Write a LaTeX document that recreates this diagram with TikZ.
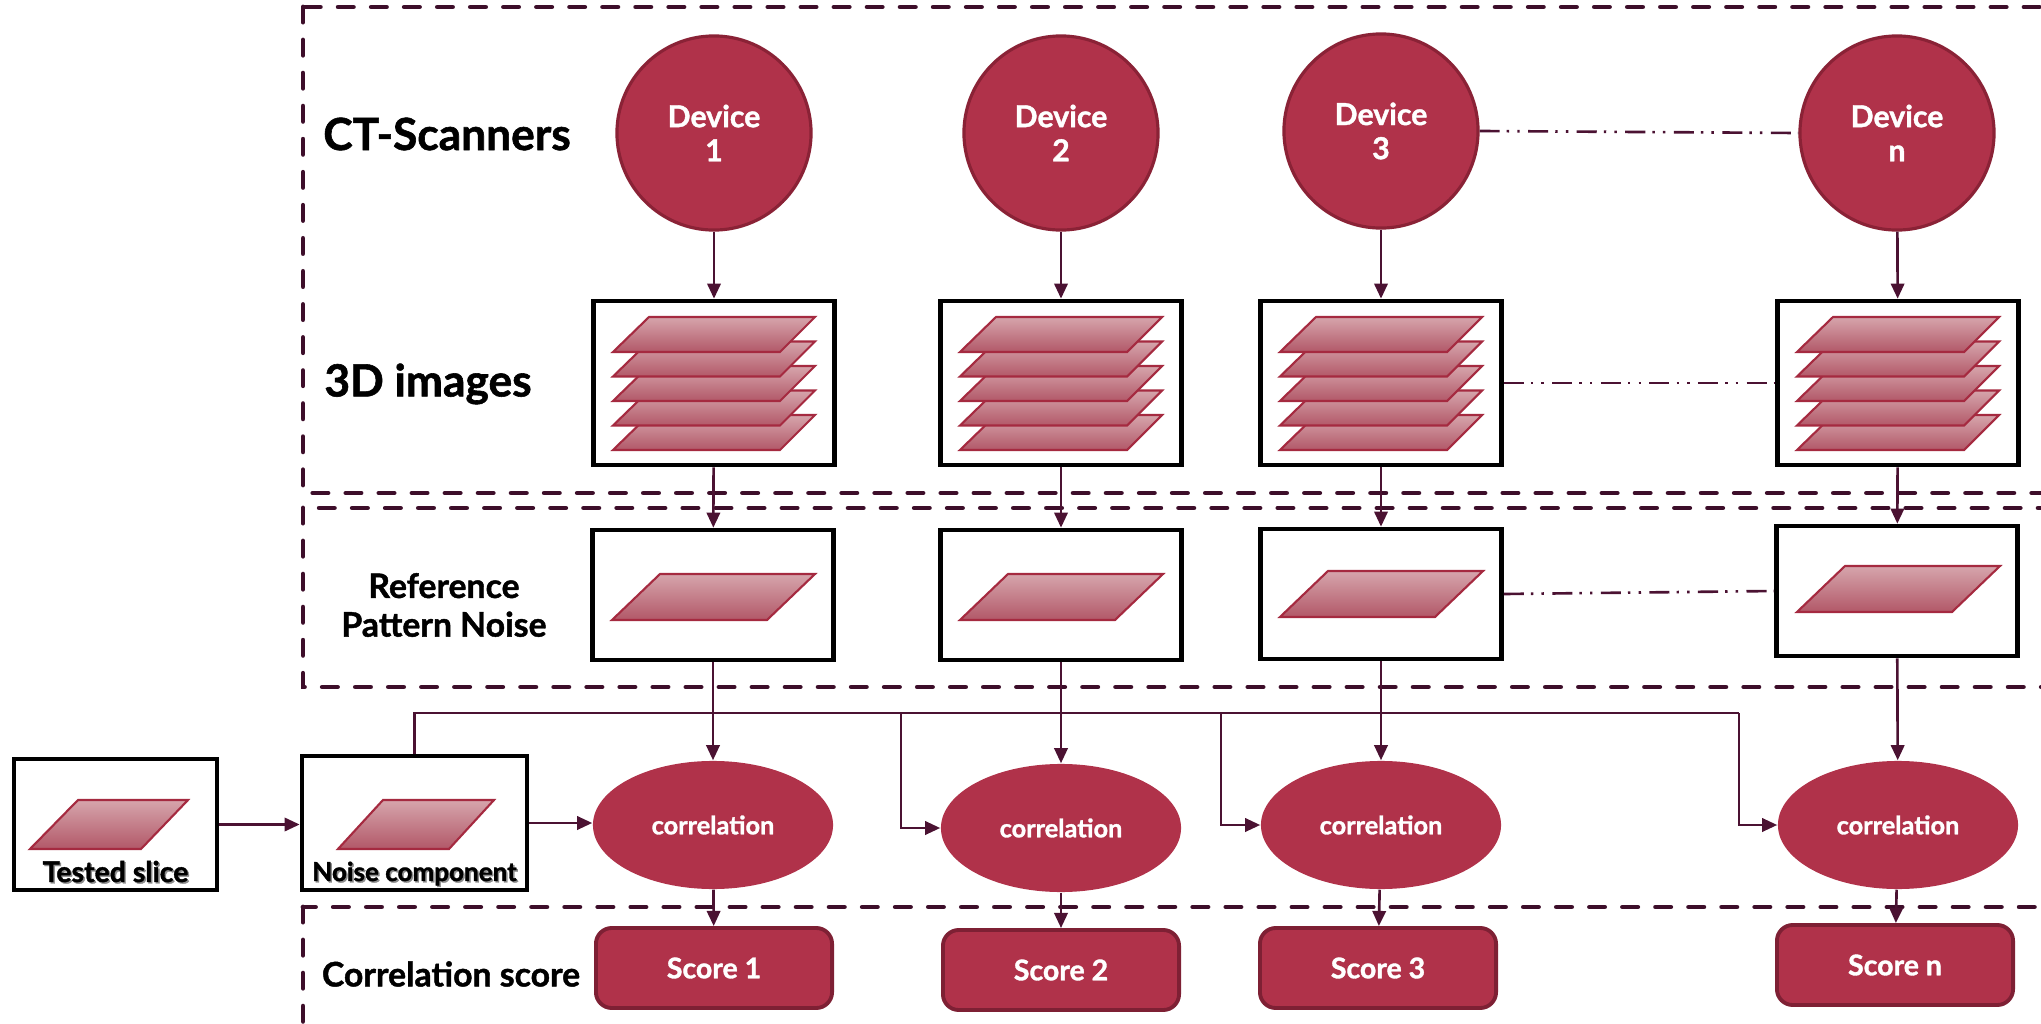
\documentclass[tikz,border=0pt]{standalone}
\usepackage{fontspec}
\setmainfont{Lato}[BoldFeatures={FakeBold=1.3}]
\usetikzlibrary{arrows.meta,shapes.geometric,calc}
\definecolor{maroon}{HTML}{B0324A}
\definecolor{maroonD}{HTML}{8A2236}
\definecolor{maroonS}{HTML}{7E2034}
\definecolor{wireC}{HTML}{4B1232}
\definecolor{regC}{HTML}{3D0E2A}
\definecolor{sliceE}{HTML}{A52A40}
\definecolor{sliceT}{HTML}{D6A5AC}
\definecolor{sliceB}{HTML}{B25868}
\begin{document}
\begin{tikzpicture}[x=0.01cm,y=-0.01cm,
  wire/.style={draw=wireC,line width=0.75pt},
  arr/.style={wire,-{Triangle[length=4.3pt,width=3.8pt]}},
  region/.style={draw=regC,line width=1.4pt,line cap=round,dash pattern=on 4.3pt off 5.1pt},
  dashdots/.style={draw=wireC,line width=0.75pt,dash pattern=on 5.7pt off 2pt on 0.7pt off 2.3pt on 0.7pt off 2.4pt},
  device/.style={circle,fill=maroon,draw=maroonD,line width=0.9pt,minimum size=1.94cm,inner sep=0pt,
    text=white,align=center,font=\bfseries\fontsize{8.6}{9.7}\selectfont},
  framebox/.style={draw=black,line width=1.3pt,fill=white,minimum width=2.41cm,inner sep=0pt},
  stackbox/.style={framebox,minimum height=1.64cm},
  rpnbox/.style={framebox,minimum height=1.30cm},
  corr/.style={ellipse,fill=maroon,minimum width=2.40cm,minimum height=1.28cm,inner sep=0pt,
    text=white,font=\bfseries\fontsize{7.2}{8.5}\selectfont},
  scorebox/.style={rectangle,rounded corners=4.5pt,fill=maroon,draw=maroonS,line width=1.1pt,
    minimum width=2.36cm,minimum height=0.80cm,inner sep=0pt,text=white,font=\bfseries\fontsize{8.1}{9.5}\selectfont},
  biglabel/.style={font=\bfseries\fontsize{12.6}{14}\selectfont},
  smalllabel/.style={font=\bfseries\fontsize{9.6}{11}\selectfont,align=center},
  slice/.style={draw=sliceE,line width=0.6pt,top color=sliceT,bottom color=sliceB},
  pics/stack/.style={code={
    \foreach \d in {67,42.5,18,-6.5,-31}
      {\path[slice] (-101,\d) -- (66,\d) -- (101,\d-35) -- (-65,\d-35) -- cycle;}
  }},
  pics/flat/.style={code={
    \path[slice] (-101,23) -- (54,23) -- (102,-23) -- (-53,-23) -- cycle;
  }}
]
\useasboundingbox (0,0) rectangle (2041,1024);

% dashed stage regions, open to the right
\begin{scope}
  \clip (0,0) rectangle (2041,1024);
  \draw[region] (303,7) rectangle (2090,493);
  \draw[region] (303,508) rectangle (2090,687);
  \draw[region] (303,907) rectangle (2090,1060);
\end{scope}

% stage labels
\node[biglabel] (lblCT) at (447,134) {CT-Scanners};
\node[biglabel] (lbl3D) at (428,384) {3D images};
\node[smalllabel] (lblRPN) at (444,605) {Reference\\Pattern Noise};
\node[smalllabel] (lblCS) at (451,974) {Correlation score};

% scanners
\node[device] (d1) at (714,133) {Device\\1};
\node[device] (d2) at (1061,133) {Device\\2};
\node[device] (d3) at (1381,131) {Device\\3};
\node[device] (dn) at (1897,133) {Device\\n};

% acquired volumes
\node[stackbox] (s1) at (714,383) {};
\node[stackbox] (s2) at (1061,383) {};
\node[stackbox] (s3) at (1381,383) {};
\node[stackbox] (sn) at (1898,383) {};
\pic at (714,383) {stack};
\pic at (1061,383) {stack};
\pic at (1381,383) {stack};
\pic at (1898,383) {stack};

% reference pattern noise
\node[rpnbox] (r1) at (713,595) {};
\node[rpnbox] (r2) at (1061,595) {};
\node[rpnbox] (r3) at (1381,594) {};
\node[rpnbox] (rn) at (1897,591) {};
\pic at (713,597) {flat};
\pic at (1061,597) {flat};
\pic at (1381,594) {flat};
\pic at (1898,589) {flat};

% correlation stage
\node[corr] (c1) at (713,825) {correlation};
\node[corr] (c2) at (1061,828) {correlation};
\node[corr] (c3) at (1381,825) {correlation};
\node[corr] (cn) at (1898,825) {correlation};

% scores
\node[scorebox] (sc1) at (714,968) {Score 1};
\node[scorebox] (sc2) at (1061,970) {Score 2};
\node[scorebox] (sc3) at (1378,968) {Score 3};
\node[scorebox] (scn) at (1895,965) {Score n};

% query slice and its noise residual
\node[framebox,minimum width=2.03cm,minimum height=1.31cm] (ts) at (115.5,824.5) {};
\node[framebox,minimum width=2.25cm,minimum height=1.34cm] (nc) at (414.5,823) {};
\path[slice] (30,849) -- (141,849) -- (188,800) -- (78,800) -- cycle;
\path[slice] (338,849) -- (449,849) -- (494,800) -- (383,800) -- cycle;
\node[font=\bfseries\fontsize{8.1}{9}\selectfont,text=black!45] at (117,873) {Tested slice};
\node[font=\bfseries\fontsize{8.1}{9}\selectfont] (tsl) at (115.5,871.5) {Tested slice};
\node[font=\bfseries\fontsize{7.4}{9}\selectfont,text=black!45] at (416,875) {Noise component};
\node[font=\bfseries\fontsize{7.4}{9}\selectfont] (ncl) at (414.5,873.5) {Noise component};

% vertical flow per device
\foreach \k in {1,2,3,n} {
  \draw[arr] (d\k) -- (s\k);
  \draw[arr] (s\k) -- (r\k);
  \draw[arr] (r\k) -- (c\k);
  \draw[arr] (c\k) -- (sc\k);
}

% query path
\draw[arr] (ts.east) -- (ts.east -| nc.west);
\draw[arr] (nc.east) -- (nc.east -| c1.west);
\coordinate (b2) at (901,713);
\coordinate (b3) at (1221,713);
\coordinate (bn) at (1739,713);
\draw[wire] (nc.north) |- (bn);
\draw[arr] (b2) |- (c2.west);
\draw[arr] (b3) |- (c3.west);
\draw[arr] (bn) |- (cn.west);

% elided devices
\draw[dashdots] (d3.east) -- (dn.west);
\draw[dashdots] (s3.east) -- (sn.west);
\draw[dashdots] (r3.east) -- (rn.west);
\end{tikzpicture}
\end{document}
